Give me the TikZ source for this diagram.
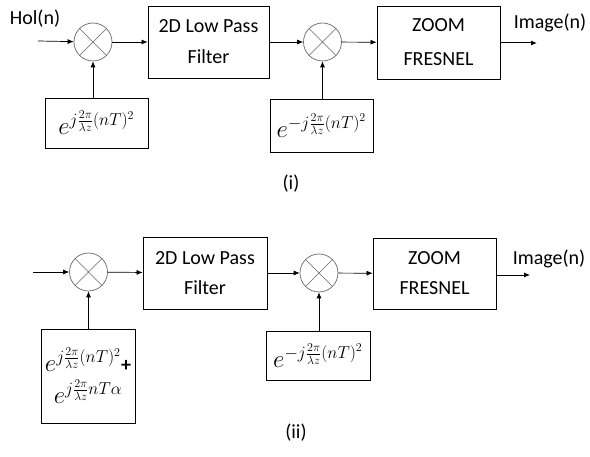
\documentclass[tikz,border=0pt]{standalone}
\usepackage{fontspec}
\setmainfont{Carlito}
\usetikzlibrary{arrows.meta}

\begin{document}
\begin{tikzpicture}[x=1pt,y=-1pt,
  font=\fontsize{20}{24}\selectfont,
  block/.style={draw, line width=0.8pt, inner sep=0pt, align=center},
  expbox/.style={draw, line width=0.8pt, inner sep=0pt, align=center,
    font=\fontsize{25}{28}\selectfont},
  mult/.style={circle, draw=black!60, line width=0.7pt, minimum size=38pt,
    inner sep=0pt,
    path picture={\draw[black!60, line width=0.7pt]
      (path picture bounding box.north west) -- (path picture bounding box.south east)
      (path picture bounding box.north east) -- (path picture bounding box.south west);}},
  sig/.style={line width=0.7pt, -{Latex[length=6pt,width=5pt]}},
  label/.style={inner sep=0pt}
]
\useasboundingbox (0,0) rectangle (590,457);

% ---------- system (i) ----------
\node[label] (hol) at (35,19) {Hol(n)};
\coordinate (in1) at (38,41);
\node[mult] (m1) at (93,42) {};
\node[block, minimum width=121pt, minimum height=72pt] (lpf1) at (208.5,42)
  {2D Low Pass\\[7pt]Filter};
\node[mult] (m2) at (322.5,42) {};
\node[block, minimum width=123pt, minimum height=73pt] (zf1) at (438.5,42.5)
  {ZOOM\\[10pt]FRESNEL};
\coordinate (out1) at (537,43);
\node[label] (img1) at (550,23) {Image(n)};
\node[expbox, minimum width=103pt, minimum height=50pt] (e1) at (96.5,123)
  {$e^{j\frac{2\pi}{\lambda z}(nT)^2}$};
\node[expbox, minimum width=103pt, minimum height=53pt] (e2) at (321.5,125.5)
  {$e^{-j\frac{2\pi}{\lambda z}(nT)^2}$};
\node[label] (capi) at (291,184) {(i)};

\draw[sig] (in1) -- (m1);
\draw[sig] (m1) -- (lpf1);
\draw[sig] (lpf1) -- (m2);
\draw[sig] (m2) -- (zf1);
\draw[sig, line width=1pt] (zf1.east |- out1) -- (out1);
\draw[sig] (m1 |- e1.north) -- (m1);
\draw[sig] (m2 |- e2.north) -- (m2);

% ---------- system (ii) ----------
\coordinate (in2) at (33,272);
\node[mult] (m3) at (88.5,272) {};
\node[block, minimum width=124pt, minimum height=72pt] (lpf2) at (205,273)
  {2D Low Pass\\[6pt]Filter};
\node[mult] (m4) at (319,273) {};
\node[block, minimum width=123pt, minimum height=71pt] (zf2) at (434.5,273.5)
  {ZOOM\\[6pt]FRESNEL};
\coordinate (out2) at (530,275);
\node[label] (img2) at (549,259) {Image(n)};
\node[expbox, minimum width=94pt, minimum height=94pt] (e3) at (88,376)
  {$e^{j\frac{2\pi}{\lambda z}(nT)^2}$\textbf{\fontsize{20}{24}\selectfont+}\\[4pt]$e^{j\frac{2\pi}{\lambda z}nT\alpha}$};
\node[expbox, minimum width=104pt, minimum height=49pt] (e4) at (318,355.5)
  {$e^{-j\frac{2\pi}{\lambda z}(nT)^2}$};
\node[label] (capii) at (296,433) {(ii)};

\draw[sig] (in2) -- (m3);
\draw[sig] (m3) -- (lpf2);
\draw[sig] (lpf2) -- (m4);
\draw[sig] (m4) -- (zf2);
\draw[sig] (zf2.east |- out2) -- (out2);
\draw[sig] (m3 |- e3.north) -- (m3);
\draw[sig] (m4 |- e4.north) -- (m4);
\end{tikzpicture}
\end{document}
